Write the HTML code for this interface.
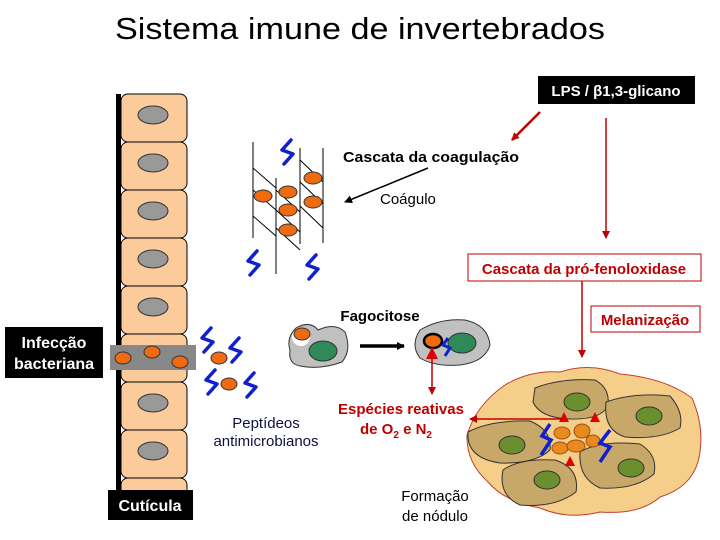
<!DOCTYPE html>
<html><head><meta charset="utf-8"><style>
body{margin:0;background:#fff}
svg{display:block;font-family:"Liberation Sans",Arial,sans-serif}
</style></head><body>
<svg width="720" height="540" viewBox="0 0 720 540" xmlns="http://www.w3.org/2000/svg">
<defs>
<marker id="ab" markerWidth="8" markerHeight="8" refX="7" refY="4" orient="auto" markerUnits="userSpaceOnUse"><path d="M0,0 L8,4 L0,8z" fill="#000"/></marker>
<marker id="ar" markerWidth="8" markerHeight="8" refX="7" refY="4" orient="auto" markerUnits="userSpaceOnUse"><path d="M0,0 L8,4 L0,8z" fill="#c00000"/></marker>
<path id="sq" d="M3,-12 L-6,-2 L5,2 L-4,12" fill="none" stroke="#1020d0" stroke-width="3.5" stroke-linecap="round" stroke-linejoin="round"/>
</defs>
<text x="360" y="39" font-size="31" text-anchor="middle" textLength="490" lengthAdjust="spacingAndGlyphs">Sistema imune de invertebrados</text>

<!-- cuticle column -->
<rect x="116" y="94" width="5" height="416" fill="#000"/>
<g fill="#fbcb9c" stroke="#000" stroke-width="1">
<rect x="121" y="94" width="66" height="48" rx="7"/>
<rect x="121" y="142" width="66" height="48" rx="7"/>
<rect x="121" y="190" width="66" height="48" rx="7"/>
<rect x="121" y="238" width="66" height="48" rx="7"/>
<rect x="121" y="286" width="66" height="48" rx="7"/>
<rect x="121" y="334" width="66" height="48" rx="7"/>
<rect x="121" y="382" width="66" height="48" rx="7"/>
<rect x="121" y="430" width="66" height="48" rx="7"/>
<rect x="121" y="478" width="66" height="32" rx="7"/>
</g>
<g fill="#999" stroke="#333">
<ellipse cx="153" cy="115" rx="15" ry="9"/><ellipse cx="153" cy="163" rx="15" ry="9"/>
<ellipse cx="153" cy="211" rx="15" ry="9"/><ellipse cx="153" cy="259" rx="15" ry="9"/>
<ellipse cx="153" cy="307" rx="15" ry="9"/><ellipse cx="153" cy="403" rx="15" ry="9"/>
<ellipse cx="153" cy="451" rx="15" ry="9"/>
</g>
<rect x="110" y="345" width="86" height="25" fill="#888"/>
<g fill="#f06a10" stroke="#333">
<ellipse cx="123" cy="358" rx="8" ry="6"/><ellipse cx="152" cy="352" rx="8" ry="6"/><ellipse cx="180" cy="362" rx="8" ry="6"/>
</g>
<rect x="5" y="327" width="98" height="51" fill="#000"/>
<text x="54" y="348" fill="#fff" font-size="16" font-weight="bold" text-anchor="middle">Infecção</text>
<text x="54" y="369" fill="#fff" font-size="16" font-weight="bold" text-anchor="middle">bacteriana</text>
<rect x="108" y="490" width="85" height="30" fill="#000"/>
<text x="150" y="511" fill="#fff" font-size="16" font-weight="bold" text-anchor="middle">Cutícula</text>

<!-- clot -->
<g stroke="#000" stroke-width="1">
<line x1="253" y1="142" x2="253" y2="238"/><line x1="276" y1="178" x2="276" y2="274"/>
<line x1="300" y1="148" x2="300" y2="244"/><line x1="323" y1="148" x2="323" y2="243"/>
<line x1="253" y1="168" x2="276" y2="188"/><line x1="253" y1="190" x2="276" y2="210"/>
<line x1="253" y1="216" x2="276" y2="236"/><line x1="276" y1="190" x2="300" y2="212"/>
<line x1="276" y1="210" x2="300" y2="232"/><line x1="276" y1="228" x2="300" y2="250"/>
<line x1="300" y1="160" x2="323" y2="182"/><line x1="300" y1="182" x2="323" y2="204"/>
<line x1="300" y1="206" x2="323" y2="228"/>
</g>
<g fill="#f06a10" stroke="#333">
<ellipse cx="263" cy="196" rx="9" ry="6"/><ellipse cx="288" cy="192" rx="9" ry="6"/>
<ellipse cx="288" cy="210" rx="9" ry="6"/><ellipse cx="288" cy="230" rx="9" ry="6"/>
<ellipse cx="313" cy="178" rx="9" ry="6"/><ellipse cx="313" cy="202" rx="9" ry="6"/>
<ellipse cx="219" cy="358" rx="8" ry="6"/><ellipse cx="229" cy="384" rx="8" ry="6"/>
</g>
<use href="#sq" x="288" y="152"/><use href="#sq" x="254" y="263"/><use href="#sq" x="313" y="267"/>
<use href="#sq" x="208" y="340"/><use href="#sq" x="236" y="350"/>
<use href="#sq" x="212" y="382"/><use href="#sq" x="251" y="385"/>

<text x="343" y="162" font-size="15" font-weight="bold" textLength="176" lengthAdjust="spacingAndGlyphs">Cascata da coagulação</text>
<line x1="428" y1="168" x2="345" y2="202" stroke="#000" stroke-width="1.5" marker-end="url(#ab)"/>
<text x="380" y="204" font-size="15">Coágulo</text>

<!-- LPS -->
<rect x="538" y="76" width="157" height="28" fill="#000"/>
<text x="616" y="96" fill="#fff" font-size="15" font-weight="bold" text-anchor="middle">LPS / β1,3-glicano</text>
<line x1="540" y1="112" x2="512" y2="140" stroke="#c00000" stroke-width="2.5" marker-end="url(#ar)"/>
<line x1="606" y1="118" x2="606" y2="238" stroke="#c00000" stroke-width="1.5" marker-end="url(#ar)"/>
<rect x="468" y="254" width="233" height="27" fill="#fff" stroke="#c00000"/>
<text x="584" y="274" fill="#c00000" font-size="15" font-weight="bold" text-anchor="middle">Cascata da pró-fenoloxidase</text>
<line x1="582" y1="281" x2="582" y2="357" stroke="#c00000" stroke-width="1.5" marker-end="url(#ar)"/>
<rect x="591" y="306" width="109" height="26" fill="#fff" stroke="#c00000"/>
<text x="645" y="325" fill="#c00000" font-size="15" font-weight="bold" text-anchor="middle">Melanização</text>

<!-- phagocytosis -->
<text x="380" y="321" font-size="15" font-weight="bold" text-anchor="middle">Fagocitose</text>
<path d="M296,328 Q310,320 318,330 Q335,322 345,332 Q352,350 342,362 Q320,370 300,366 Q288,364 290,350 Q286,338 296,328z" fill="#c0c0c0" stroke="#333"/>
<circle cx="301" cy="337" r="9" fill="#fff"/>
<ellipse cx="302" cy="334" rx="8" ry="6" fill="#f06a10" stroke="#333"/>
<ellipse cx="323" cy="351" rx="14" ry="10" fill="#2e8b57" stroke="#333"/>
<line x1="360" y1="346" x2="404" y2="346" stroke="#000" stroke-width="3.5" marker-end="url(#ab)"/>
<path d="M420,330 Q440,318 465,320 Q488,325 490,345 Q485,362 460,365 Q435,367 420,358 Q410,345 420,330z" fill="#c0c0c0" stroke="#333"/>
<ellipse cx="433" cy="341" rx="9" ry="7" fill="#f06a10" stroke="#000" stroke-width="2.5"/>
<ellipse cx="462" cy="343" rx="14" ry="10" fill="#2e8b57" stroke="#333"/>
<path d="M448,338 L443,345 L450,348 L445,356" fill="none" stroke="#1020d0" stroke-width="3"/>
<path d="M426,359 L432,347 L438,359z" fill="#e00000"/>
<line x1="432" y1="358" x2="432" y2="394" stroke="#c00000" stroke-width="1.5" marker-end="url(#ar)"/>

<text x="401" y="414" fill="#c00000" font-size="15" font-weight="bold" text-anchor="middle">Espécies reativas</text>
<text x="360" y="434" fill="#c00000" font-size="15" font-weight="bold">de O<tspan font-size="10" dy="4">2</tspan><tspan dy="-4"> e N</tspan><tspan font-size="10" dy="4">2</tspan></text>
<text x="266" y="428" fill="#101040" font-size="15" text-anchor="middle">Peptídeos</text>
<text x="266" y="446" fill="#101040" font-size="15" text-anchor="middle">antimicrobianos</text>
<text x="435" y="501" font-size="15" text-anchor="middle">Formação</text>
<text x="435" y="521" font-size="15" text-anchor="middle">de nódulo</text>

<!-- nodule -->
<path d="M505,385 Q530,370 560,372 Q590,362 620,374 Q665,378 692,398 Q706,430 698,462 Q690,488 660,497 Q640,515 600,512 Q568,520 540,508 Q505,502 488,482 Q466,462 467,435 Q476,405 505,385z" fill="#f5cf8a" stroke="#c04030"/>
<g fill="#c8a868" stroke="#333">
<path d="M535,388 Q560,378 595,380 Q610,388 608,405 Q602,420 570,419 Q540,418 533,402z"/>
<path d="M606,402 Q635,392 670,396 Q684,412 680,428 Q660,440 625,437 Q603,430 606,402z"/>
<path d="M468,432 Q490,420 530,421 Q552,430 550,450 Q535,464 500,463 Q466,458 468,432z"/>
<path d="M503,470 Q520,458 555,460 Q580,468 576,492 Q555,508 520,505 Q498,495 503,470z"/>
<path d="M580,452 Q600,440 640,444 Q658,455 654,474 Q635,490 600,488 Q578,478 580,452z"/>
</g>
<g fill="#6b8e2e" stroke="#333">
<ellipse cx="577" cy="402" rx="13" ry="9"/><ellipse cx="649" cy="416" rx="13" ry="9"/>
<ellipse cx="512" cy="445" rx="13" ry="9"/><ellipse cx="547" cy="480" rx="13" ry="9"/>
<ellipse cx="631" cy="468" rx="13" ry="9"/>
</g>
<g fill="#e88a20" stroke="#a05010">
<ellipse cx="562" cy="433" rx="8" ry="6"/><ellipse cx="582" cy="431" rx="8" ry="7"/>
<ellipse cx="593" cy="441" rx="7" ry="6"/><ellipse cx="560" cy="448" rx="8" ry="6"/>
<ellipse cx="576" cy="446" rx="9" ry="6"/>
</g>
<path d="M559,422 L569,422 L564,412z M590,422 L600,422 L595,412z M565,466 L575,466 L570,456z" fill="#e00000"/>
<path d="M550,424 L542,436 L551,440 L541,455" fill="none" stroke="#1020d0" stroke-width="3.5"/>
<path d="M610,430 L600,443 L610,447 L600,462" fill="none" stroke="#1020d0" stroke-width="3.5"/>
<line x1="563" y1="419" x2="470" y2="419" stroke="#c00000" stroke-width="1.5" marker-end="url(#ar)"/>
</svg>
</body></html>
